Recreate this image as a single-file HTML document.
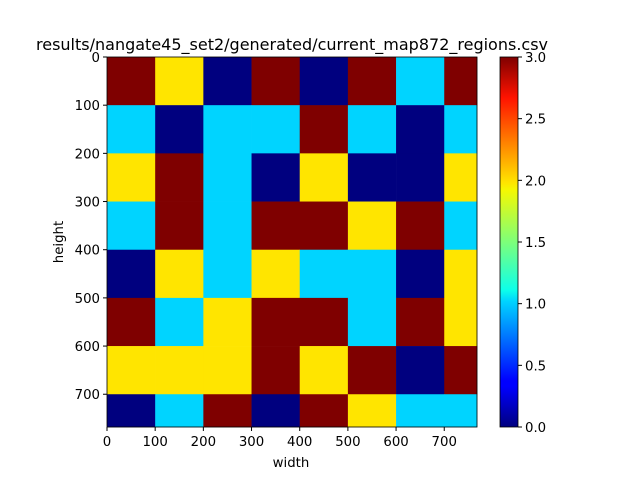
<!DOCTYPE html>
<html><head><meta charset="utf-8"><style>
body{margin:0;background:#fff;font-family:"DejaVu Sans","Liberation Sans",sans-serif;}
</style></head><body>
<svg width="640" height="480" xmlns="http://www.w3.org/2000/svg" font-family="DejaVu Sans, Liberation Sans, sans-serif">
<defs><linearGradient id="jet" x1="0" y1="1" x2="0" y2="0">
<stop offset="0" stop-color="#00007f"/><stop offset="0.11" stop-color="#0000ff"/>
<stop offset="0.125" stop-color="#0000ff"/><stop offset="0.34" stop-color="#00d4ff"/>
<stop offset="0.37" stop-color="#0dffea"/><stop offset="0.5" stop-color="#7dff7a"/>
<stop offset="0.64" stop-color="#f4f802"/><stop offset="0.66" stop-color="#ffe500"/>
<stop offset="0.89" stop-color="#ff1300"/><stop offset="1" stop-color="#7f0000"/>
</linearGradient></defs>
<text x="292" y="50" font-size="16" text-anchor="middle">results/nangate45_set2/generated/current_map872_regions.csv</text>
<g id="cells"></g><g id="axes"></g>
<rect x="500" y="57" width="18" height="370" fill="url(#jet)" stroke="#000" stroke-width="0.8"/>
<g id="cbt"></g>
<text x="291" y="467" font-size="13.3" text-anchor="middle">width</text>
<text x="63" y="242" font-size="13.3" text-anchor="middle" transform="rotate(-90 63 242)">height</text>
</svg>
<script>
const grid=[[3,2,0,3,0,3,1,3],[1,0,1,1,3,1,0,1],[2,3,1,0,2,0,0,2],[1,3,1,3,3,2,3,1],[0,2,1,2,1,1,0,2],[3,1,2,3,3,1,3,2],[2,2,2,3,2,3,0,3],[0,1,3,0,3,2,1,1]];
const xTicks=[0,100,200,300,400,500,600,700];
const yTicks=[0,100,200,300,400,500,600,700];
const cbTicks=["0.0","0.5","1.0","1.5","2.0","2.5","3.0"];
const colors=["#00007f","#00d4ff","#ffe500","#7f0000"];
const X0=107,Y0=57,S=370/768,EXT=768;
const sx=v=>X0+v*S, sy=v=>Y0+v*S, cy=v=>427-v/3*370;
const NS="http://www.w3.org/2000/svg";
function mk(t,a,p){const e=document.createElementNS(NS,t);for(const k in a)e.setAttribute(k,a[k]);p.appendChild(e);return e;}
const cells=document.getElementById('cells'),ax=document.getElementById('axes'),cb=document.getElementById('cbt');
grid.forEach((row,r)=>row.forEach((v,c)=>{
 const x1=sx(c*100),x2=sx(Math.min((c+1)*100,EXT)),y1=sy(r*100),y2=sy(Math.min((r+1)*100,EXT));
 const e=mk('rect',{x:x1,y:y1,width:x2-x1+0.3,height:y2-y1+0.3,fill:colors[v]},cells);
 
 
}));
const fr=mk('rect',{x:X0,y:Y0,width:370,height:370,fill:'none',stroke:'#000','stroke-width':0.8},ax);


xTicks.forEach(t=>{mk('line',{x1:sx(t),x2:sx(t),y1:427,y2:431,stroke:'#000'},ax);
 const e=mk('text',{x:sx(t),y:446,'font-size':13.3,'text-anchor':'middle'},ax);e.textContent=t;
 
 });
yTicks.forEach(t=>{mk('line',{x1:103,x2:107,y1:sy(t),y2:sy(t),stroke:'#000'},ax);
 const e=mk('text',{x:100,y:sy(t)+5,'font-size':13.3,'text-anchor':'end'},ax);e.textContent=t;
 
 });
cbTicks.forEach(t=>{const y=cy(parseFloat(t));mk('line',{x1:518,x2:522,y1:y,y2:y,stroke:'#000'},cb);
 const e=mk('text',{x:525,y:y+5,'font-size':13.3},cb);e.textContent=t;
 
 });
</script>
</body></html>
